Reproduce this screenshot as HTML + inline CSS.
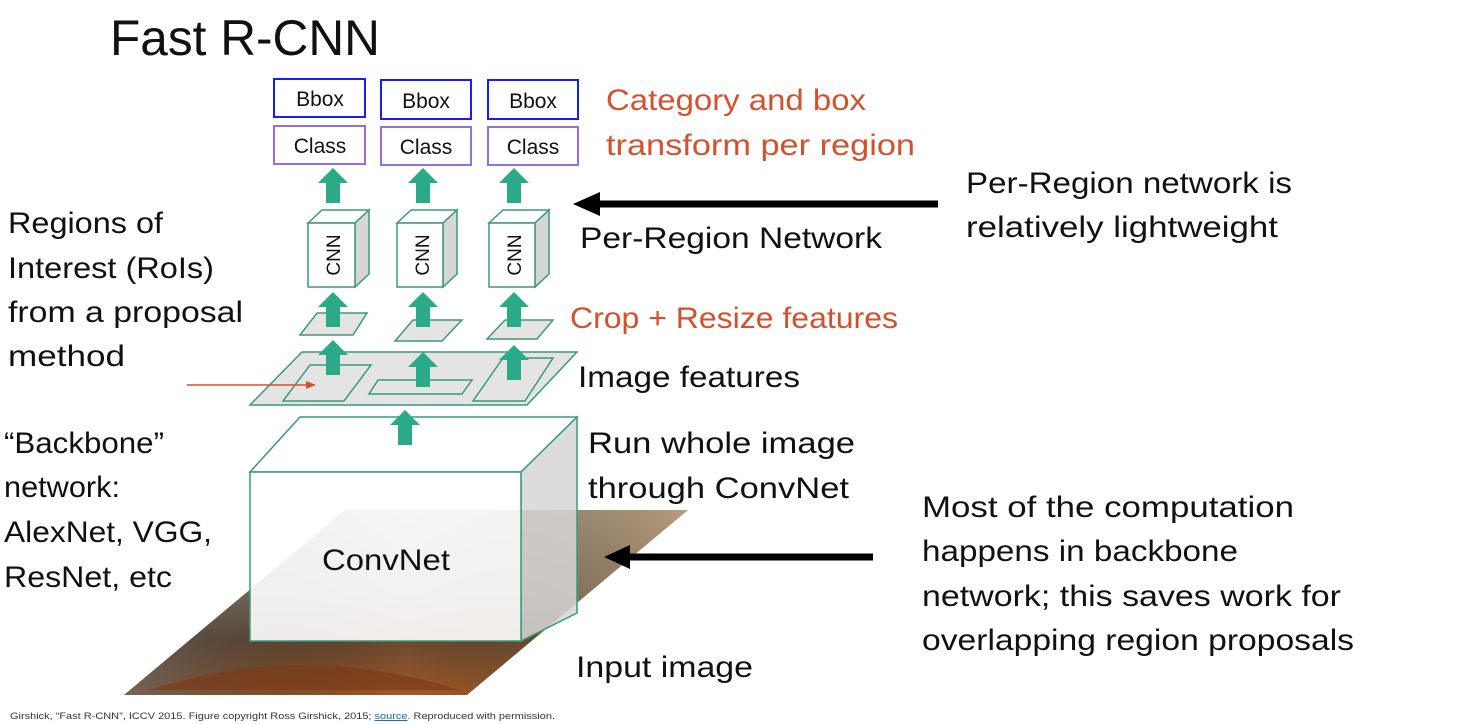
<!DOCTYPE html>
<html><head><meta charset="utf-8"><style>
html,body{margin:0;padding:0;background:#fff}
svg{display:block}
text{font-family:"Liberation Sans",sans-serif}
</style></head><body>
<svg width="1458" height="724" viewBox="0 0 1458 724" xmlns="http://www.w3.org/2000/svg">
<defs>
<linearGradient id="img" x1="0" y1="0" x2="0" y2="1">
<stop offset="0" stop-color="#a89a86"/><stop offset="0.45" stop-color="#8a7a68"/><stop offset="0.7" stop-color="#6b4a30"/><stop offset="1" stop-color="#a25a28"/>
</linearGradient>
<linearGradient id="imgh" x1="0" y1="0" x2="1" y2="0">
<stop offset="0" stop-color="#5a6a70" stop-opacity="0.6"/><stop offset="0.5" stop-color="#000" stop-opacity="0"/><stop offset="1" stop-color="#c8a070" stop-opacity="0.5"/>
</linearGradient>
<g id="ga"><polygon points="0,0 15,15 7,15 7,35 -7,35 -7,15 -15,15" fill="#2aaa87"/></g>
</defs>

<text x="110" y="55" font-size="50" textLength="270" lengthAdjust="spacingAndGlyphs" fill="#111">Fast R-CNN</text>

<!-- input image -->
<polygon points="124,695 467,695 688,510 345,510" fill="url(#img)"/>
<polygon points="124,695 467,695 688,510 345,510" fill="url(#imgh)"/>
<path d="M150,690 Q300,640 460,690" fill="#7a3c18" opacity="0.7"/>

<!-- ConvNet box -->
<polygon points="250,472 300,417 577,417 521,472" fill="#fff" stroke="#3a9a7a" stroke-width="1.5"/>
<polygon points="521,472 577,417 577,613 521,641" fill="#d6d6d6" fill-opacity="0.85" stroke="#3a9a7a" stroke-width="1.5"/>
<rect x="250" y="472" width="271" height="169" fill="#fff" fill-opacity="0.9" stroke="#3a9a7a" stroke-width="1.5"/>
<text x="322" y="570" font-size="30" textLength="128" lengthAdjust="spacingAndGlyphs" fill="#111">ConvNet</text>
<use href="#ga" x="405" y="410"/>

<!-- feature plane -->
<polygon points="250,405 527,405 577,352 302,352" fill="#e4e4e4" stroke="#3a9a7a" stroke-width="1.5"/>
<polygon points="283,401 344,401 371,365 310,365" fill="#e4e4e4" stroke="#3a9a7a" stroke-width="1.5"/>
<polygon points="369,394 462,394 472,380 378,380" fill="#e4e4e4" stroke="#3a9a7a" stroke-width="1.5"/>
<polygon points="473,401 525,401 553,358 503,358" fill="#e4e4e4" stroke="#3a9a7a" stroke-width="1.5"/>
<use href="#ga" x="333" y="340"/>
<use href="#ga" x="423" y="352"/>
<use href="#ga" x="514" y="345"/>
<line x1="187" y1="385" x2="308" y2="385" stroke="#d2522e" stroke-width="1.5"/>
<polygon points="316,385 306,381 306,389" fill="#d2522e"/>

<!-- crop planes -->
<polygon points="300,335 353,335 367,313 317,313" fill="#e4e4e4" stroke="#3a9a7a" stroke-width="1.5"/>
<polygon points="395,341 442,341 462,320 413,320" fill="#e4e4e4" stroke="#3a9a7a" stroke-width="1.5"/>
<polygon points="487,339 537,339 553,320 505,320" fill="#e4e4e4" stroke="#3a9a7a" stroke-width="1.5"/>
<use href="#ga" x="333" y="292"/>
<use href="#ga" x="423" y="292"/>
<use href="#ga" x="514" y="292"/>

<!-- CNN boxes -->
<g stroke="#3a9a7a" stroke-width="1.5">
<polygon points="308,223 322,210 369,210 355,223" fill="#fff"/>
<polygon points="355,223 369,210 369,274 355,287" fill="#d6d6d6"/>
<rect x="308" y="223" width="47" height="64" fill="#fff"/>
<polygon points="397,223 411,210 457,210 443,223" fill="#fff"/>
<polygon points="443,223 457,210 457,274 443,287" fill="#d6d6d6"/>
<rect x="397" y="223" width="46" height="64" fill="#fff"/>
<polygon points="489,223 503,210 549,210 535,223" fill="#fff"/>
<polygon points="535,223 549,210 549,274 535,287" fill="#d6d6d6"/>
<rect x="489" y="223" width="46" height="64" fill="#fff"/>
</g>
<text transform="translate(340,255) rotate(-90)" font-size="19" text-anchor="middle" fill="#111">CNN</text>
<text transform="translate(429,255) rotate(-90)" font-size="19" text-anchor="middle" fill="#111">CNN</text>
<text transform="translate(521,255) rotate(-90)" font-size="19" text-anchor="middle" fill="#111">CNN</text>
<use href="#ga" x="333" y="168"/>
<use href="#ga" x="423" y="168"/>
<use href="#ga" x="514" y="168"/>

<!-- Bbox / Class -->
<g fill="#fff" stroke-width="2">
<rect x="274" y="79" width="91" height="38" stroke="#1a1aff"/>
<rect x="381" y="80" width="90" height="39" stroke="#1a1aff"/>
<rect x="488" y="80" width="90" height="39" stroke="#1a1aff"/>
<rect x="274" y="126" width="91" height="38" stroke="#9370db"/>
<rect x="381" y="127" width="90" height="38" stroke="#9370db"/>
<rect x="488" y="127" width="90" height="38" stroke="#9370db"/>
</g>
<g font-size="21" text-anchor="middle" fill="#111">
<text x="320" y="106">Bbox</text><text x="426" y="108">Bbox</text><text x="533" y="108">Bbox</text>
<text x="320" y="153">Class</text><text x="426" y="154">Class</text><text x="533" y="154">Class</text>
</g>

<!-- labels -->
<g font-size="30" fill="#111" lengthAdjust="spacingAndGlyphs">
<text x="606" y="110" fill="#d2522e" textLength="260" lengthAdjust="spacingAndGlyphs">Category and box</text>
<text x="606" y="155" fill="#d2522e" textLength="309" lengthAdjust="spacingAndGlyphs">transform per region</text>
<text x="580" y="248" textLength="302" lengthAdjust="spacingAndGlyphs">Per-Region Network</text>
<text x="570" y="328" fill="#d2522e" textLength="328" lengthAdjust="spacingAndGlyphs">Crop + Resize features</text>
<text x="578" y="387" textLength="222" lengthAdjust="spacingAndGlyphs">Image features</text>
<text x="588" y="453" textLength="267" lengthAdjust="spacingAndGlyphs">Run whole image</text>
<text x="588" y="498" textLength="261" lengthAdjust="spacingAndGlyphs">through ConvNet</text>
<text x="576" y="677" textLength="177" lengthAdjust="spacingAndGlyphs">Input image</text>
<text x="8" y="233" textLength="155" lengthAdjust="spacingAndGlyphs">Regions of</text>
<text x="8" y="278" textLength="206" lengthAdjust="spacingAndGlyphs">Interest (RoIs)</text>
<text x="8" y="322" textLength="235" lengthAdjust="spacingAndGlyphs">from a proposal</text>
<text x="8" y="366" textLength="117" lengthAdjust="spacingAndGlyphs">method</text>
<text x="4" y="453" textLength="160" lengthAdjust="spacingAndGlyphs">“Backbone”</text>
<text x="4" y="497" textLength="116" lengthAdjust="spacingAndGlyphs">network:</text>
<text x="4" y="542" textLength="208" lengthAdjust="spacingAndGlyphs">AlexNet, VGG,</text>
<text x="4" y="587" textLength="168" lengthAdjust="spacingAndGlyphs">ResNet, etc</text>
<text x="966" y="193" textLength="326" lengthAdjust="spacingAndGlyphs">Per-Region network is</text>
<text x="966" y="237" textLength="312" lengthAdjust="spacingAndGlyphs">relatively lightweight</text>
<text x="922" y="517" textLength="372" lengthAdjust="spacingAndGlyphs">Most of the computation</text>
<text x="922" y="561" textLength="316" lengthAdjust="spacingAndGlyphs">happens in backbone</text>
<text x="922" y="606" textLength="419" lengthAdjust="spacingAndGlyphs">network; this saves work for</text>
<text x="922" y="650" textLength="432" lengthAdjust="spacingAndGlyphs">overlapping region proposals</text>
</g>

<!-- black arrows -->
<line x1="938" y1="204" x2="596" y2="204" stroke="#000" stroke-width="7"/>
<polygon points="573,204 600,192 600,216" fill="#000"/>
<line x1="873" y1="557" x2="626" y2="557" stroke="#000" stroke-width="7"/>
<polygon points="604,557 630,545 630,569" fill="#000"/>

<text x="10" y="719" font-size="9.5" fill="#333" textLength="545" lengthAdjust="spacingAndGlyphs">Girshick, “Fast R-CNN”, ICCV 2015. Figure copyright Ross Girshick, 2015; <tspan fill="#1a5fd0" text-decoration="underline">source</tspan>. Reproduced with permission.</text>
</svg>
</body></html>
